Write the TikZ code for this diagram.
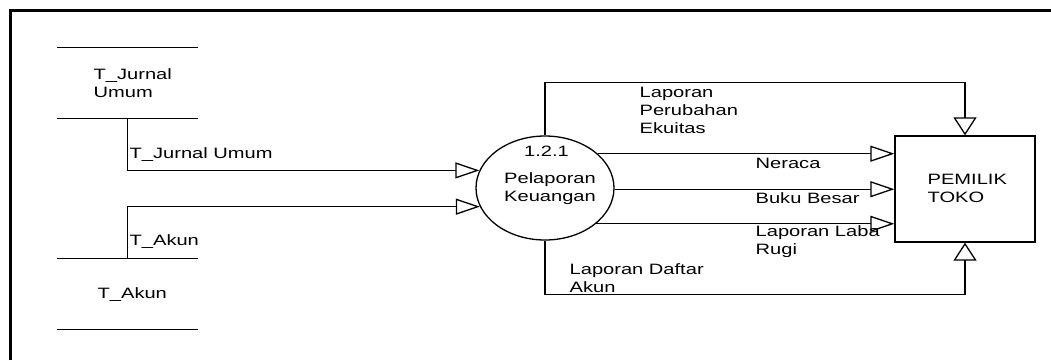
\documentclass[tikz,border=0pt]{standalone}
\usepackage{fontspec}
\setmainfont{Liberation Sans}[FakeStretch=1.34]
\usetikzlibrary{arrows.meta,shapes.geometric}
\begin{document}
\begin{tikzpicture}[x=1pt,y=-1pt, line width=1.3pt,
 lbl/.style={inner sep=0pt, font=\fontsize{15pt}{18pt}\selectfont, align=left},
 hflow/.style={-{Triangle[open,length=24pt,width=16pt]}},
 vflow/.style={-{Triangle[open,length=18pt,width=23pt]}},
 storebox/.style={minimum width=139pt, minimum height=70pt, inner sep=0pt}]
\useasboundingbox (0,0) rectangle (1051,360);
\draw[line width=2.5pt] (10.5,360) -- (10.5,10.5) -- (1051,10.5);
% data stores
\node[storebox] (s1) at (127.5,83) {};
\draw (s1.north west) -- (s1.north east) (s1.south west) -- (s1.south east);
\node[lbl, anchor=west] (s1t) at (93,83.5) {T\_Jurnal\\Umum};
\node[storebox] (s2) at (127.5,294) {};
\draw (s2.north west) -- (s2.north east) (s2.south west) -- (s2.south east);
\node[lbl, anchor=west] (s2t) at (97,295) {T\_Akun};
% process
\node[ellipse, draw, minimum width=138pt, minimum height=104pt, inner sep=0pt] (proc) at (545,188) {};
\node[lbl] (pid) at (546.5,151) {1.2.1};
\node[lbl] (pname) at (550,189) {Pelaporan\\Keuangan};
% entity
\node[draw, minimum width=140pt, minimum height=106pt, inner sep=0pt] (owner) at (965,189) {};
\node[lbl, anchor=west] (ownert) at (927,188) {PEMILIK\\TOKO};
% flows
\draw[hflow] (s1.south) |- (proc.165.4);
\draw[hflow] (s2.north) |- (proc.196.5);
\draw[hflow] (proc.33.1) -- (proc.33.1 -| owner.west);
\draw[hflow] (proc.-1) -- (proc.-1 -| owner.west);
\draw[hflow] (proc.-35.9) -- (proc.-35.9 -| owner.west);
\draw[vflow] (proc.north) -- ++(0,-53) -| (owner.north);
\draw[vflow] (proc.south) -- ++(0,54) -| (owner.south);
% labels
\node[lbl, anchor=west] (l1) at (129,155) {T\_Jurnal Umum};
\node[lbl, anchor=west] (l2) at (129,242) {T\_Akun};
\node[lbl, anchor=west] (l3) at (639,110) {Laporan\\Perubahan\\Ekuitas};
\node[lbl, anchor=west] (l4) at (755,163) {Neraca};
\node[lbl, anchor=west] (l5) at (755,198) {Buku Besar};
\node[lbl, anchor=west] (l6) at (755,242) {Laporan Laba\\Rugi};
\node[lbl, anchor=west] (l7) at (569,278) {Laporan Daftar\\Akun};
\end{tikzpicture}
\end{document}
